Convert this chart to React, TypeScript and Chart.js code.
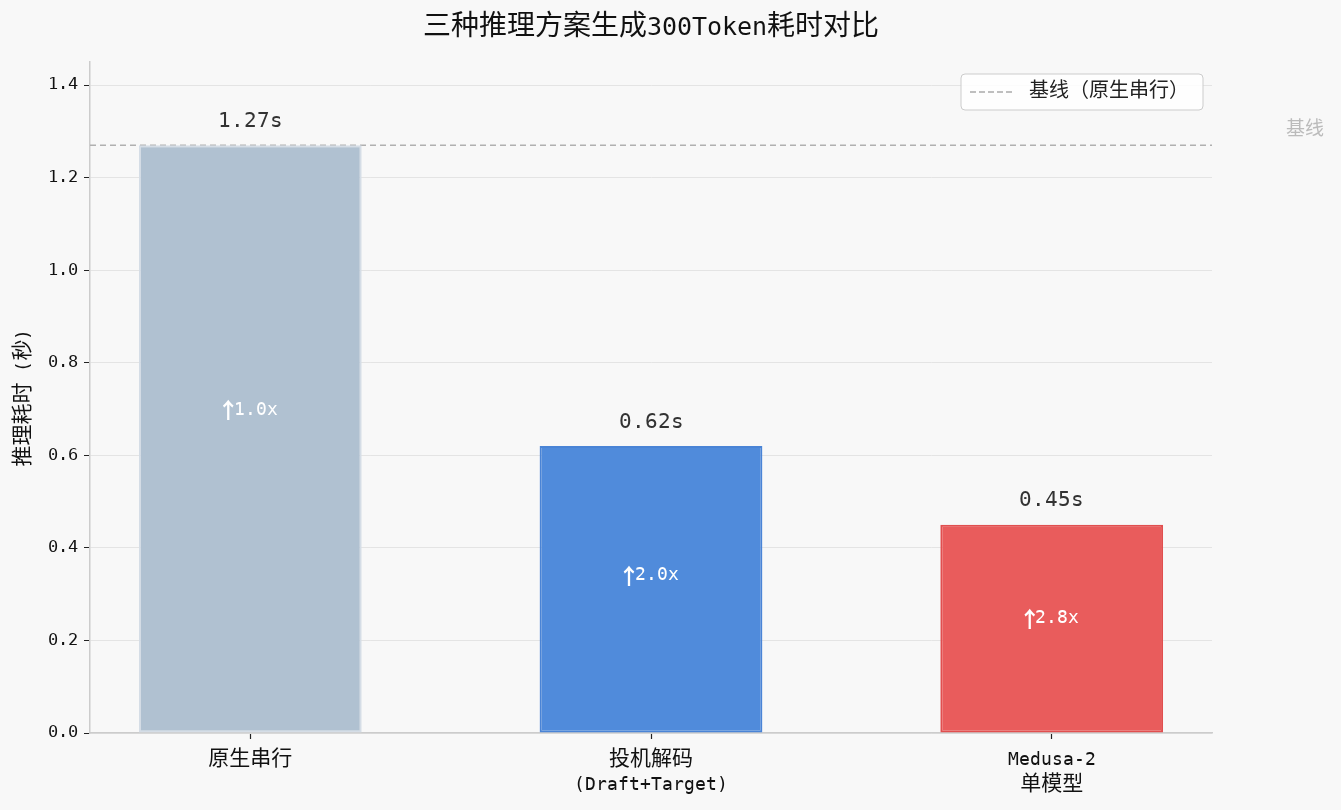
import React, { useEffect, useRef } from 'react';
import { Chart, registerables } from 'chart.js';

Chart.register(...registerables);

// data
const categories = [['原生串行'], ['投机解码', '(Draft+Target)'], ['Medusa-2', '单模型']];
const times = [1.27, 0.62, 0.45];
const speedups = ['1.0x', '2.0x', '2.8x'];
const barColors = ['#b0c1d1', '#508bdb', '#e95c5c'];
const barEdges = ['#d5dde6', '#4a84d6', '#e14f4f'];
const yTicks = [0, 0.2, 0.4, 0.6, 0.8, 1.0, 1.2, 1.4];

const X_MIN = -0.4;
const X_MAX = 2.4;
// narrow latin next to full-width CJK, like SimHei
const FONT = 'LatMono, "Noto Sans CJK SC", sans-serif';

const fontCss = `@font-face {
  font-family: 'LatMono';
  src: local('DejaVu Sans Mono'), local('DejaVuSansMono');
  size-adjust: 88%;
  unicode-range: U+0020-007E;
}`;

const App = () => {
    const chartRef = useRef<HTMLCanvasElement>(null);
    const chartInstance = useRef<Chart | null>(null);

    useEffect(() => {
        document.body.style.margin = '0';
        document.body.style.background = '#f8f8f8';
        const style = document.createElement('style');
        style.textContent = fontCss;
        document.head.appendChild(style);
        let cancelled = false;

        const build = () => {
            if (cancelled || !chartRef.current) return;
            const ctx = chartRef.current.getContext('2d');
            if (!ctx) return;
            if (chartInstance.current) chartInstance.current.destroy();

            const baseline = times[0];

            // title, labels on bars, legend, side note
            const decorPlugin = {
                id: 'decor',
                beforeDraw: (chart: Chart) => {
                    const c = chart.ctx;
                    c.save();
                    c.fillStyle = '#f8f8f8';
                    c.fillRect(0, 0, chart.width, chart.height);
                    c.restore();
                },
                afterDraw: (chart: Chart) => {
                    const c = chart.ctx;
                    const area = chart.chartArea;
                    const xs = chart.scales.x;
                    const ys = chart.scales.y;

                    c.save();
                    c.textAlign = 'center';
                    c.textBaseline = 'middle';
                    c.fillStyle = '#111';
                    c.font = `28px ${FONT}`;
                    c.fillText('三种推理方案生成300Token耗时对比', (area.left + area.right) / 2, 29);

                    times.forEach((v, i) => {
                        const x = xs.getPixelForValue(i);
                        c.textAlign = 'center';
                        c.font = `24px ${FONT}`;
                        c.fillStyle = '#333';
                        c.fillText(v.toFixed(2) + 's', x, ys.getPixelForValue(v) - 24);

                        // arrow + speedup inside the bar
                        const y = ys.getPixelForValue(v * 0.55);
                        const arrowFont = 'bold 22px "Noto Sans CJK SC"';
                        c.fillStyle = '#ffffff';
                        c.font = arrowFont;
                        const full = c.measureText('↑').width;
                        const aw = full * 0.5;
                        c.font = `21px ${FONT}`;
                        const tw = c.measureText(speedups[i]).width;
                        const start = x - (aw + tw) / 2;
                        c.textAlign = 'center';
                        c.font = arrowFont;
                        c.fillText('↑', start + aw / 2, y);
                        c.textAlign = 'left';
                        c.font = `21px ${FONT}`;
                        c.fillText(speedups[i], start + aw, y);
                    });

                    // side note
                    c.textAlign = 'center';
                    c.font = `19px ${FONT}`;
                    c.fillStyle = '#bbbbbb';
                    c.fillText('基线', 1305, ys.getPixelForValue(baseline) - 15);

                    // legend
                    const lx = 961, ly = 74, lw = 242, lh = 36;
                    c.fillStyle = 'rgba(255,255,255,0.85)';
                    c.strokeStyle = '#cccccc';
                    c.lineWidth = 1;
                    c.beginPath();
                    c.roundRect(lx, ly, lw, lh, 4);
                    c.fill();
                    c.stroke();
                    c.setLineDash([6, 3]);
                    c.strokeStyle = '#aaaaaa';
                    c.lineWidth = 1.5;
                    c.beginPath();
                    c.moveTo(lx + 9, ly + lh / 2);
                    c.lineTo(lx + 51, ly + lh / 2);
                    c.stroke();
                    c.setLineDash([]);
                    c.textAlign = 'left';
                    c.fillStyle = '#222';
                    c.font = `20px ${FONT}`;
                    c.fillText('基线（原生串行）', lx + 68, ly + lh / 2);
                    c.restore();
                }
            };

            chartInstance.current = new Chart(ctx, {
                type: 'bar',
                data: {
                    datasets: [
                        {
                            type: 'line',
                            label: '基线（原生串行）',
                            data: [{ x: X_MIN, y: baseline }, { x: X_MAX, y: baseline }],
                            borderColor: '#b0b0b0',
                            borderWidth: 1.6,
                            borderDash: [6, 4],
                            pointRadius: 0,
                            order: 2
                        },
                        {
                            type: 'bar',
                            label: '耗时',
                            data: times.map((v, i) => ({ x: i, y: v })),
                            backgroundColor: barColors,
                            borderColor: barEdges,
                            borderWidth: 2,
                            borderSkipped: false,
                            categoryPercentage: 1,
                            barPercentage: 0.556,
                            order: 1
                        }
                    ]
                } as any,
                plugins: [decorPlugin],
                options: {
                    responsive: false,
                    animation: false,
                    layout: { padding: { top: 62, right: 129, left: 0, bottom: 0 } },
                    scales: {
                        x: {
                            type: 'linear',
                            min: X_MIN,
                            max: X_MAX,
                            offset: false,
                            afterFit: (s: any) => { s.height = 77; },
                            afterBuildTicks: (s: any) => { s.ticks = categories.map((_, i) => ({ value: i })); },
                            grid: { offset: false, drawOnChartArea: false, tickColor: '#222', tickLength: 6, tickWidth: 1.2 },
                            border: { color: '#cccccc', width: 1.5 },
                            ticks: {
                                autoSkip: false,
                                maxRotation: 0,
                                color: '#111',
                                font: { family: FONT, size: 21, lineHeight: 1.22 },
                                padding: 8,
                                callback: (v: any) => categories[v] ?? ''
                            }
                        },
                        y: {
                            min: 0,
                            max: 1.45,
                            afterFit: (s: any) => { s.width = 90; },
                            afterBuildTicks: (s: any) => { s.ticks = yTicks.map(v => ({ value: v })); },
                            grid: { color: '#e4e4e4', tickColor: '#222', tickLength: 6, lineWidth: 1 },
                            border: { color: '#cccccc', width: 1.5 },
                            title: {
                                display: true,
                                text: '推理耗时 (秒)',
                                color: '#111',
                                font: { family: FONT, size: 21 },
                                padding: { top: 12, bottom: 0 }
                            },
                            ticks: {
                                color: '#111',
                                font: { family: FONT, size: 19 },
                                padding: 6,
                                callback: (v: any) => Number(v).toFixed(1)
                            }
                        }
                    },
                    plugins: {
                        legend: { display: false },
                        tooltip: { enabled: false },
                        title: { display: false }
                    }
                }
            });
        };

        document.fonts.load('20px LatMono').then(build, build);

        return () => {
            cancelled = true;
            style.remove();
            if (chartInstance.current) {
                chartInstance.current.destroy();
                chartInstance.current = null;
            }
        };
    }, []);

    return (
        <div style={{ width: '1341px', height: '810px', background: '#f8f8f8' }}>
            <canvas ref={chartRef} width={1341} height={810} style={{ width: '1341px', height: '810px' }}></canvas>
        </div>
    );
};

export default App;
